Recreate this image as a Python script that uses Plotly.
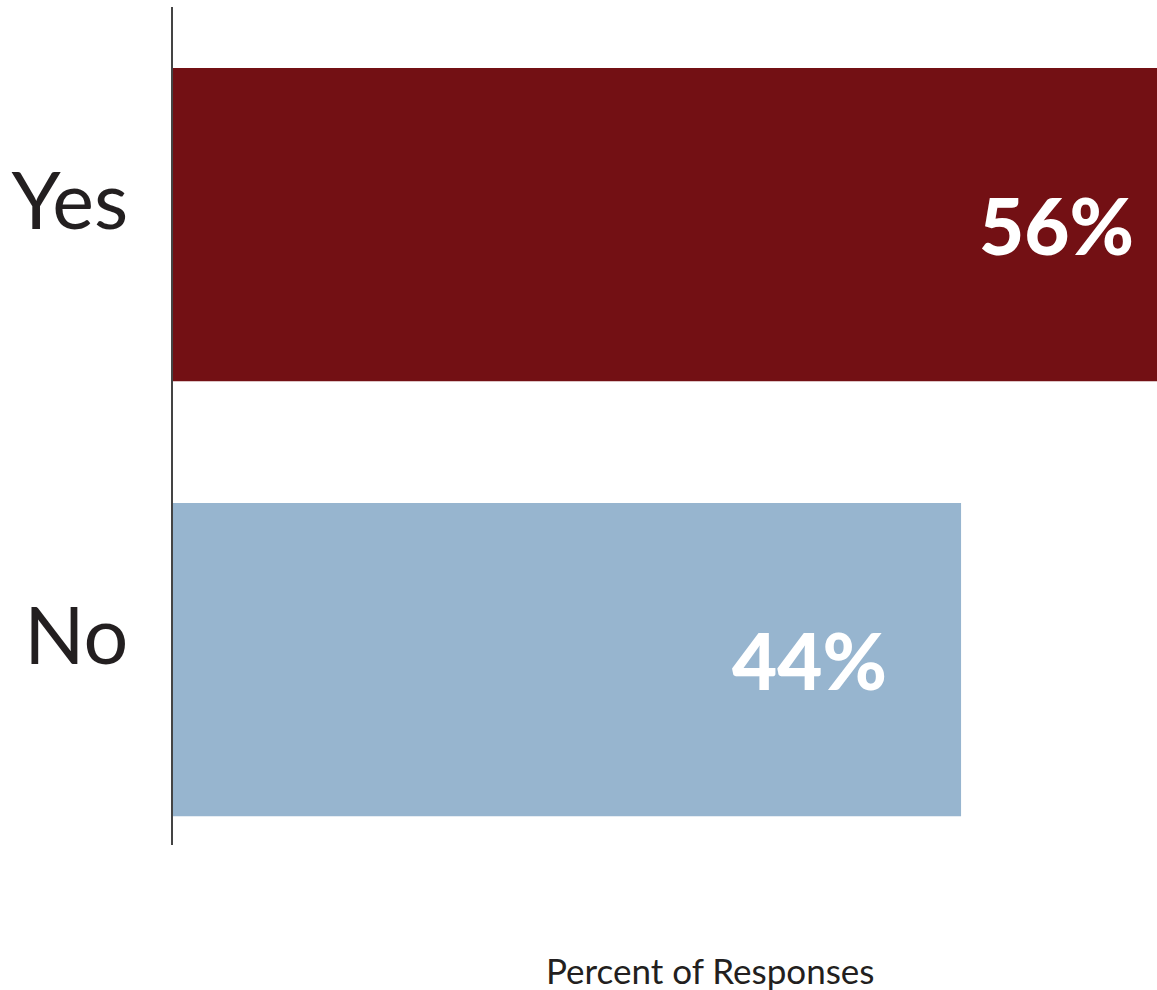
import plotly.graph_objects as go

# data
categories = ['No', 'Yes']
values = [44, 56]
bar_colors = ['#97b5cf', '#731014']

FONT = 'Lato'

fig = go.Figure()

fig.add_trace(
    go.Bar(x=values,
           y=categories,
           orientation='h',
           width=0.72,
           marker={'color': bar_colors, 'line': {'width': 0}},
           hoverinfo='skip',
           showlegend=False)
)

# value labels, right aligned near the visible end of each bar
x_max = 54.94
label_shift = [-72, -21]
for cat, val, shift in zip(categories, values, label_shift):
    fig.add_annotation(x=min(val, x_max), y=cat, xref='x', yref='y',
                       text=f'{val}%', showarrow=False,
                       xanchor='right', yanchor='middle', xshift=shift,
                       font={'family': FONT, 'size': 78, 'color': 'white',
                             'weight': 900})

plot_top, plot_h = 7, 838
fig_w, fig_h = 1157, 990
fig.add_annotation(x=0.546, y=-(970 - plot_top - plot_h) / plot_h,
                   xref='paper', yref='paper',
                   text='Percent of Responses', showarrow=False,
                   yanchor='middle',
                   font={'family': FONT, 'size': 35, 'color': '#231f20'})

fig.update_layout(
    width=fig_w,
    height=fig_h,
    margin={'l': 173, 'r': 0, 't': plot_top, 'b': fig_h - plot_top - plot_h, 'pad': 0},
    paper_bgcolor='white',
    plot_bgcolor='white',
    font={'family': FONT, 'color': '#231f20'},
    xaxis={
        'range': [0, x_max],
        'visible': False,
        'showgrid': False,
        'zeroline': False,
    },
    yaxis={
        'categoryorder': 'array',
        'categoryarray': categories,
        'range': [-0.426, 1.5],
        'showgrid': False,
        'zeroline': False,
        'showline': True,
        'linecolor': '#444444',
        'linewidth': 2,
        'ticks': '',
        'ticklabelstandoff': 27,
        'ticklabelshift': -23,
        'tickfont': {'family': FONT, 'size': 79, 'color': '#231f20'},
    },
)

# drop the default page margin so the figure fills the window exactly
fig.write_html("out.html",
               config={'displayModeBar': False},
               post_script="document.body.style.margin='0';"
                           "document.body.style.overflow='hidden';")
